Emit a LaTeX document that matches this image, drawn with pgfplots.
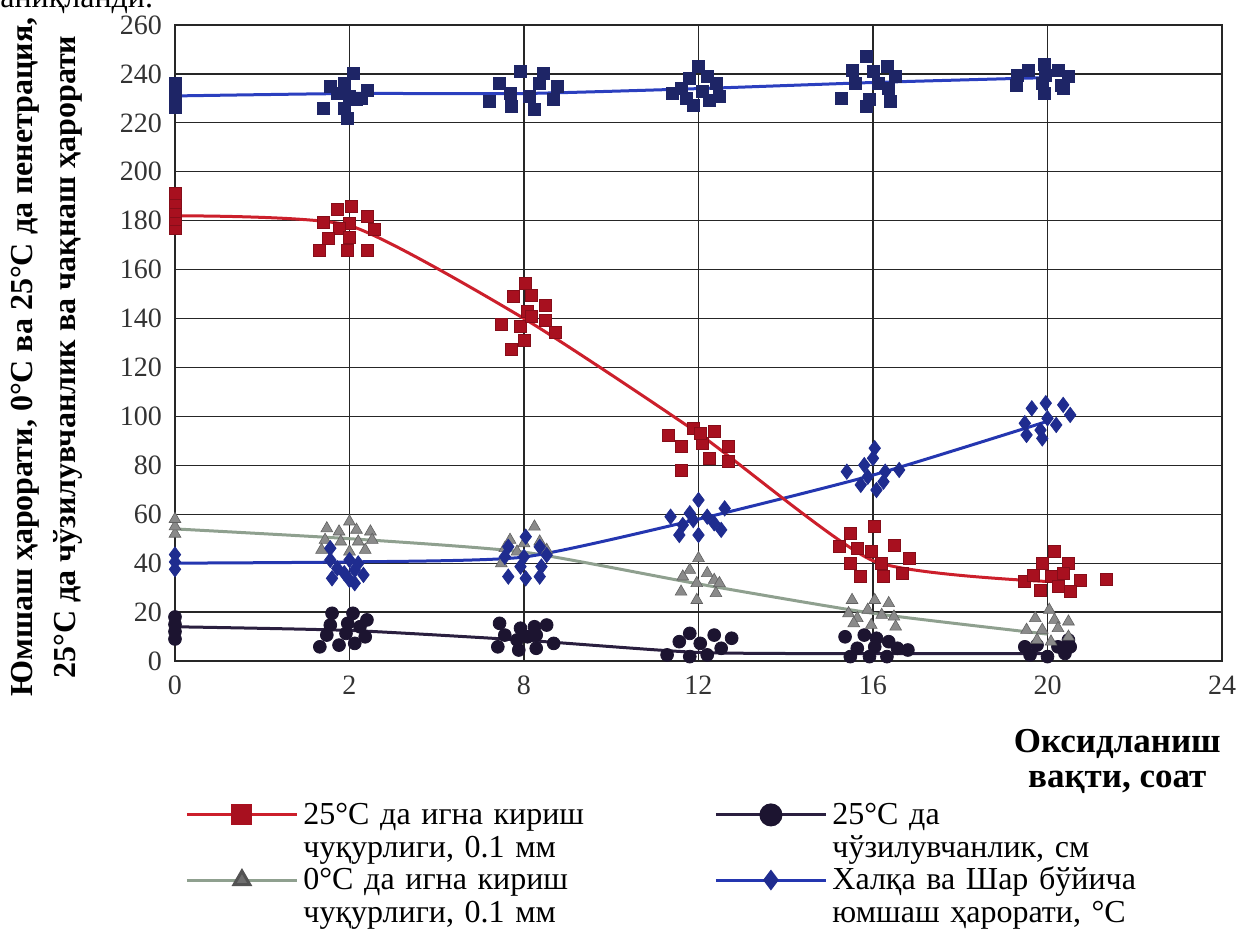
\documentclass[border=0pt]{standalone}
\usepackage{fontspec}
\setmainfont{Liberation Serif}
\usepackage{pgfplots}
\pgfplotsset{compat=1.18}
\definecolor{rmark}{HTML}{A8101F}
\definecolor{rline}{HTML}{CC1F2B}
\definecolor{nmark}{HTML}{1E2566}
\definecolor{nline}{HTML}{2B3FBF}
\definecolor{bmark}{HTML}{1F2C8F}
\definecolor{bline}{HTML}{2436B0}
\definecolor{gmark}{HTML}{8A8A8A}
\definecolor{gline}{HTML}{8FA08F}
\definecolor{dmark}{HTML}{1C1430}
\definecolor{dline}{HTML}{2A1F3F}
\begin{document}
\begin{tikzpicture}
\useasboundingbox (-87.5pt,-136pt) rectangle (534.5pt,330.5pt);
\node[anchor=base west, font=\fontsize{16}{18}\selectfont, inner sep=0pt] at (-87.5pt,326.5pt) {аниқланди.};
\begin{axis}[
  at={(0pt,0pt)}, anchor=south west, scale only axis,
  width=523.5pt, height=318pt,
  xmin=0, xmax=6, ymin=0, ymax=260,
  xtick={0,1,2,3,4,5,6}, xticklabels={0,2,8,12,16,20,24},
  ytick={0,20,...,260},
  grid=major, grid style={black!85, line width=0.6pt},
  axis line style={black!85, line width=0.6pt},
  major tick length=0pt,
  tick label style={font=\fontsize{14}{16}\selectfont, text=black!80},
  /pgf/number format/assume math mode=true,
  yticklabel style={xshift=-3pt},
  xticklabel style={yshift=-4pt},
  clip=false,
  ylabel={Юмшаш ҳарорати, 0°C ва 25°C да пенетрация,\\25°C да чўзилувчанлик ва чақнаш ҳарорати},
  ylabel style={at={(axis description cs:-0.1223,0.478)}, anchor=center, align=center, font=\bfseries\fontsize{16}{21.5}\selectfont},
  xlabel={Оксидланиш\\вақти, соат},
  xlabel style={at={(axis description cs:0.90,-0.096)}, anchor=north, align=center, font=\bfseries\fontsize{17.5}{17.5}\selectfont},
  legend columns=2,
  legend cell align=left,
  legend style={at={(axis description cs:0.0096,-0.216)}, anchor=north west, draw=none, fill=none, inner sep=0pt,
    font=\fontsize{16}{16.5}\selectfont, nodes={align=left, text width=190pt, inner xsep=2.5pt},
    /tikz/every even column/.append style={column sep=13pt}, row sep=16pt},
  legend image code/.code={\draw[mark repeat=2,mark phase=2,#1] plot coordinates {(0pt,0pt) (27.5pt,0pt) (55pt,0pt)};},
]
% ductility (dark circles)
\addplot[only marks, mark=*, mark size=3.2pt, mark options={fill=dmark, draw=dmark}, forget plot] coordinates {
(0,9)(0,12)(0,15)(0,18)
(0.9,19.5)(1.02,19.5)(1.1,16.8)(0.89,14.7)(0.99,15.4)(1.06,14.0)(0.87,10.6)(0.98,11.3)(1.09,9.9)(0.83,5.8)(0.94,6.5)(1.03,7.2)
(1.86,15.4)(1.98,13.4)(2.06,14.0)(2.13,14.7)(1.89,10.6)(2.02,9.9)(2.07,10.6)(1.85,5.8)(1.97,4.5)(2.07,5.2)(2.17,7.2)(1.96,8.6)
(2.95,11.3)(3.09,10.6)(3.19,9.3)(2.89,7.9)(3.01,7.2)(3.13,5.2)(2.82,2.5)(2.95,1.8)(3.05,2.5)
(3.84,9.9)(3.95,10.6)(4.02,9.3)(4.09,7.9)(3.91,5.2)(4.01,5.8)(4.14,5.2)(4.2,4.5)(3.87,1.8)(3.98,1.8)(4.08,1.8)
(4.87,5.8)(4.94,6.5)(5.06,5.8)(5.13,5.8)(4.9,2.5)(5.0,1.8)(5.1,3.1)(5.12,8.6)
};
\addplot[dline, line width=1.5pt, smooth, tension=0.35, forget plot] coordinates {(0,14)(1,12.5)(2,8.5)(3,3.5)(4,3)(5,3)};
% 0C penetration (gray triangles)
\addplot[only marks, mark=triangle*, mark size=3.4pt, mark options={fill=gmark, draw=gmark!70!black, line width=0.3pt}, forget plot] coordinates {
(0,52)(0,55)(0,58)
(1.0,57.0)(0.87,54.2)(0.94,52.9)(1.04,53.6)(1.12,52.9)(0.86,49.5)(0.95,48.8)(1.05,48.8)(1.13,49.5)(0.84,45.4)(1.0,44.7)(1.09,45.4)
(2.06,54.9)(1.92,49.5)(2.0,48.1)(1.89,46.1)(2.09,48.8)(2.13,45.4)(1.96,44.7)(1.87,39.9)
(3.0,42.0)(2.95,37.2)(3.05,35.9)(2.91,34.5)(3.09,33.1)(2.99,31.8)(3.12,31.8)(2.9,28.3)(3.1,27.7)(2.99,24.9)
(3.88,24.9)(4.01,24.9)(4.09,23.6)(3.97,20.9)(3.86,19.5)(4.05,18.8)(4.12,18.1)(3.91,17.5)(3.89,15.4)(3.99,14.7)(4.13,14.0)
(5.01,20.9)(4.93,17.5)(5.04,16.8)(5.12,16.1)(4.88,12.7)(4.97,12.7)(5.06,13.4)(4.94,8.6)(5.02,7.9)(5.12,9.9)
};
\addplot[gline, line width=1.5pt, smooth, tension=0.35, forget plot] coordinates {(0,54)(1,50)(2,44.5)(3,31.5)(4,19.5)(5,11)};
% ring and ball (blue diamonds)
\addplot[only marks, mark=diamond*, mark size=3.8pt, mark options={fill=bmark, draw=bmark}, forget plot] coordinates {
(0,37.5)(0,40.5)(0,43.5)
(0.89,46.1)(0.89,41.3)(1.0,41.3)(1.05,39.9)(0.93,37.9)(1.03,37.2)(0.9,33.8)(1.0,33.1)(1.08,35.2)(0.97,35.9)(1.03,31.8)
(2.01,50.8)(1.91,46.7)(2.09,46.7)(2.0,42.6)(2.13,43.3)(1.89,42.6)(1.98,38.6)(2.1,38.6)(1.91,34.5)(2.01,33.8)(2.09,34.5)
(3.0,65.8)(2.84,59.0)(2.95,60.4)(3.05,59.0)(3.15,62.4)(2.91,55.6)(3.09,56.3)(3.13,53.6)(2.89,51.5)(3.0,51.5)(2.97,57.6)
(4.01,87.0)(4.0,82.9)(3.95,80.1)(3.85,77.4)(4.07,77.4)(4.15,78.1)(3.97,75.3)(4.06,73.3)(3.93,72.0)(4.02,69.9)
(4.99,105.4)(5.09,104.7)(4.91,103.3)(5.13,100.6)(5.0,99.2)(4.87,97.2)(5.05,96.5)(4.96,94.4)(4.88,92.4)(4.97,91.0)
};
\addplot[bline, line width=1.5pt, smooth, tension=0.35, forget plot] coordinates {(0,40)(1,40.5)(2,42.5)(3,58)(4,76)(5,98)};
% flash point (navy squares)
\addplot[only marks, mark=square*, mark size=3pt, mark options={fill=nmark, draw=nmark}, forget plot] coordinates {
(0,226.5)(0,229)(0,231.5)(0,234)(0,236)
(1.02,240.3)(0.89,234.8)(0.97,236.2)(1.10,233.4)(1.0,230.7)(1.04,229.4)(0.85,226.0)(0.97,226.0)(0.99,221.9)(0.93,232.1)(1.07,230.0)
(1.98,240.9)(2.11,240.3)(1.86,236.2)(2.09,236.2)(2.19,234.8)(1.92,232.1)(2.03,230.7)(2.17,229.4)(1.80,228.7)(1.93,226.6)(2.06,225.3)
(2.90,234)(2.95,238)(3.0,243)(3.05,239)(3.1,236)(2.93,230)(3.02,233)(3.12,231)(2.97,227)(3.06,229)(2.85,232)
(3.96,247)(3.88,241.6)(4.08,243)(4.0,240.9)(4.13,238.9)(3.9,236.2)(4.03,236.2)(4.09,234.1)(3.82,230)(3.98,229.4)(4.1,228.7)(3.96,226.6)
(4.98,243.7)(4.89,241.6)(5.06,241.6)(4.83,239.6)(4.99,239.6)(5.12,238.9)(4.82,235.5)(4.97,236.2)(5.08,235.5)(4.98,232.1)(5.09,234.1)
};
\addplot[nline, line width=1.5pt, smooth, tension=0.35, forget plot] coordinates {(0,231)(1,232)(2,232)(3,234)(4,236.5)(5,238.5)};
% 25C penetration (red squares)
\addplot[only marks, mark=square*, mark size=3pt, mark options={fill=rmark, draw=rmark!80!black}, forget plot] coordinates {
(0,177)(0,180.5)(0,184)(0,187.5)(0,191)
(0.93,184.7)(1.01,185.7)(1.10,181.6)(0.85,179.2)(1.0,178.9)(1.14,176.5)(0.94,176.9)(0.88,172.8)(1.0,173.2)(0.83,167.7)(0.99,167.7)(1.10,168.0)
(2.01,154.4)(1.94,148.9)(2.04,149.6)(2.12,145.5)(2.02,142.8)(2.12,139.4)(1.87,137.8)(1.98,136.7)(2.0,131.2)(2.18,134.2)(1.93,127.4)(2.04,140.8)
(2.83,92.4)(2.97,95.1)(3.09,93.7)(2.9,87.6)(3.02,89.0)(3.17,87.6)(3.06,82.9)(3.17,81.5)(2.9,78.1)(3.01,93.1)
(4.01,54.9)(3.87,52.2)(3.81,46.7)(3.91,46.1)(3.99,44.7)(4.12,47.4)(4.21,42.0)(3.87,39.9)(4.05,39.9)(4.17,35.9)(3.93,34.5)(4.06,34.5)
(5.04,44.7)(4.97,39.9)(5.12,39.9)(4.87,32.4)(4.92,35.2)(5.02,34.5)(5.09,35.9)(5.19,33.1)(4.96,29.0)(5.06,30.4)(5.13,28.3)(5.34,33.5)
};
\addplot[rline, line width=1.5pt, smooth, tension=0.35, forget plot] coordinates {(0,182)(1,178)(2,140)(3,93)(4,41)(5,32.5)};
% legend
\addlegendimage{rline, line width=1.5pt, mark=square*, mark size=4.5pt, mark options={fill=rmark, draw=rmark}}
\addlegendentry{25°C да игна кириш\\чуқурлиги, 0.1 мм}
\addlegendimage{dline, line width=1.5pt, mark=*, mark size=5pt, mark options={fill=dmark, draw=dmark}}
\addlegendentry{25°C да\\чўзилувчанлик, см}
\addlegendimage{gline, line width=1.5pt, mark=triangle*, mark size=4.5pt, mark options={fill=gmark!80!black, draw=gmark!60!black}}
\addlegendentry{0°C да игна кириш\\чуқурлиги, 0.1 мм}
\addlegendimage{bline, line width=1.5pt, mark=diamond*, mark size=4pt, mark options={fill=bmark, draw=bmark}}
\addlegendentry{Халқа ва Шар бўйича\\юмшаш ҳарорати, °C}
\end{axis}
\end{tikzpicture}
\end{document}
